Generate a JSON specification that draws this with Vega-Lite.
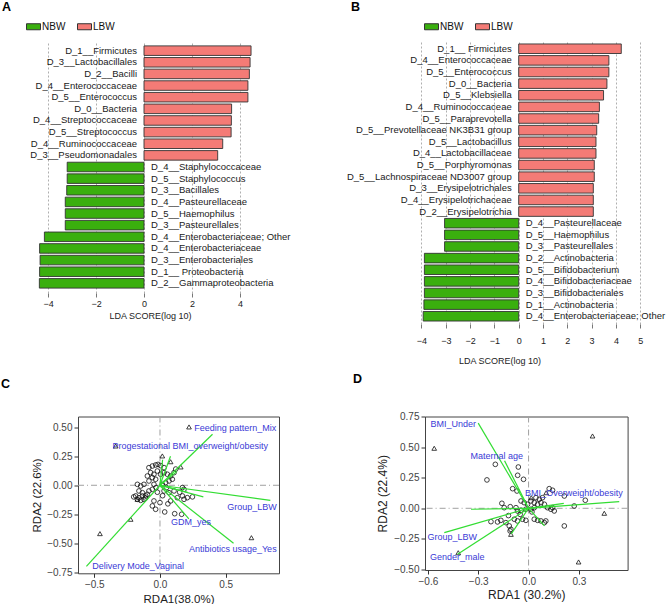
{
  "$schema": "https://vega.github.io/schema/vega-lite/v6.json",
  "padding": 0,
  "background": "white",
  "config": {"font": "Liberation Sans", "view": {"stroke": null}, "axis": {"labelOverlap": false, "labelFlush": false}},
  "datasets": {
    "ldaA": [
      {"order": 1, "taxon": "D_1__Firmicutes", "group": "LBW", "lda": 4.46},
      {"order": 2, "taxon": "D_3__Lactobacillales", "group": "LBW", "lda": 4.42},
      {"order": 3, "taxon": "D_2__Bacilli", "group": "LBW", "lda": 4.39},
      {"order": 4, "taxon": "D_4__Enterococcaceae", "group": "LBW", "lda": 4.33},
      {"order": 5, "taxon": "D_5__Enterococcus", "group": "LBW", "lda": 4.33},
      {"order": 6, "taxon": "D_0__Bacteria", "group": "LBW", "lda": 3.65},
      {"order": 7, "taxon": "D_4__Streptococcaceae", "group": "LBW", "lda": 3.64},
      {"order": 8, "taxon": "D_5__Streptococcus", "group": "LBW", "lda": 3.63},
      {"order": 9, "taxon": "D_4__Ruminococcaceae", "group": "LBW", "lda": 3.28},
      {"order": 10, "taxon": "D_3__Pseudomonadales", "group": "LBW", "lda": 3.07},
      {"order": 11, "taxon": "D_4__Staphylococcaceae", "group": "NBW", "lda": -3.2},
      {"order": 12, "taxon": "D_5__Staphylococcus", "group": "NBW", "lda": -3.2},
      {"order": 13, "taxon": "D_3__Bacillales", "group": "NBW", "lda": -3.22},
      {"order": 14, "taxon": "D_4__Pasteurellaceae", "group": "NBW", "lda": -3.28},
      {"order": 15, "taxon": "D_5__Haemophilus", "group": "NBW", "lda": -3.28},
      {"order": 16, "taxon": "D_3__Pasteurellales", "group": "NBW", "lda": -3.28},
      {"order": 17, "taxon": "D_4__Enterobacteriaceae; Other", "group": "NBW", "lda": -4.15},
      {"order": 18, "taxon": "D_4__Enterobacteriaceae", "group": "NBW", "lda": -4.35},
      {"order": 19, "taxon": "D_3__Enterobacteriales", "group": "NBW", "lda": -4.33},
      {"order": 20, "taxon": "D_1__ Proteobacteria", "group": "NBW", "lda": -4.35},
      {"order": 21, "taxon": "D_2__Gammaproteobacteria", "group": "NBW", "lda": -4.36}
    ],
    "ldaB": [
      {"order": 1, "taxon": "D_1__ Firmicutes", "group": "LBW", "lda": 4.22},
      {"order": 2, "taxon": "D_4__Enterococcaceae", "group": "LBW", "lda": 3.71},
      {"order": 3, "taxon": "D_5__Enterococcus", "group": "LBW", "lda": 3.71},
      {"order": 4, "taxon": "D_0__Bacteria", "group": "LBW", "lda": 3.63},
      {"order": 5, "taxon": "D_5__Klebsiella", "group": "LBW", "lda": 3.49},
      {"order": 6, "taxon": "D_4__Ruminococcaceae", "group": "LBW", "lda": 3.32},
      {"order": 7, "taxon": "D_5__Paraprevotella", "group": "LBW", "lda": 3.29},
      {"order": 8, "taxon": "D_5__Prevotellaceae NK3B31 group", "group": "LBW", "lda": 3.21},
      {"order": 9, "taxon": "D_5__Lactobacillus", "group": "LBW", "lda": 3.18},
      {"order": 10, "taxon": "D_4__Lactobacillaceae", "group": "LBW", "lda": 3.18},
      {"order": 11, "taxon": "D_5__Porphyromonas", "group": "LBW", "lda": 3.11},
      {"order": 12, "taxon": "D_5__Lachnospiraceae ND3007 group", "group": "LBW", "lda": 3.11},
      {"order": 13, "taxon": "D_3__Erysipelotrichales", "group": "LBW", "lda": 3.07},
      {"order": 14, "taxon": "D_4__Erysipelotrichaceae", "group": "LBW", "lda": 3.07},
      {"order": 15, "taxon": "D_2__Erysipelotrichia", "group": "LBW", "lda": 3.07},
      {"order": 16, "taxon": "D_4__Pasteurellaceae", "group": "NBW", "lda": -3.05},
      {"order": 17, "taxon": "D_5__Haemophilus", "group": "NBW", "lda": -3.05},
      {"order": 18, "taxon": "D_3__Pasteurellales", "group": "NBW", "lda": -3.05},
      {"order": 19, "taxon": "D_2__Actinobacteria", "group": "NBW", "lda": -3.88},
      {"order": 20, "taxon": "D_5__Bifidobacterium", "group": "NBW", "lda": -3.88},
      {"order": 21, "taxon": "D_4__Bifidobacteriaceae", "group": "NBW", "lda": -3.88},
      {"order": 22, "taxon": "D_3__Bifidobacteriales", "group": "NBW", "lda": -3.88},
      {"order": 23, "taxon": "D_1__Actinobacteria", "group": "NBW", "lda": -3.9},
      {"order": 24, "taxon": "D_4__Enterobacteriaceae; Other", "group": "NBW", "lda": -3.93}
    ],
    "ptsC": [
      {"x": -0.084, "y": 0.152, "shape": "circle"}, {"x": -0.058, "y": 0.166, "shape": "circle"}, {"x": -0.033, "y": 0.175, "shape": "circle"},
      {"x": -0.015, "y": 0.18, "shape": "circle"}, {"x": 0.005, "y": 0.17, "shape": "circle"}, {"x": -0.071, "y": 0.109, "shape": "circle"},
      {"x": -0.046, "y": 0.095, "shape": "circle"}, {"x": -0.02, "y": 0.123, "shape": "circle"}, {"x": -0.058, "y": 0.066, "shape": "circle"},
      {"x": -0.033, "y": 0.052, "shape": "circle"}, {"x": -0.084, "y": 0.037, "shape": "circle"}, {"x": -0.096, "y": 0.08, "shape": "circle"},
      {"x": 0.005, "y": 0.095, "shape": "circle"}, {"x": 0.031, "y": 0.109, "shape": "circle"}, {"x": 0.056, "y": 0.095, "shape": "circle"},
      {"x": 0.081, "y": 0.08, "shape": "circle"}, {"x": 0.107, "y": 0.109, "shape": "circle"}, {"x": 0.094, "y": 0.052, "shape": "circle"},
      {"x": 0.069, "y": 0.037, "shape": "circle"}, {"x": 0.043, "y": 0.023, "shape": "circle"}, {"x": 0.018, "y": 0.008, "shape": "circle"},
      {"x": 0.031, "y": 0.152, "shape": "circle"}, {"x": 0.12, "y": 0.14, "shape": "circle"},
      {"x": -0.172, "y": 0.008, "shape": "circle"}, {"x": -0.147, "y": -0.006, "shape": "circle"}, {"x": -0.122, "y": 0.008, "shape": "circle"},
      {"x": -0.16, "y": -0.049, "shape": "circle"}, {"x": -0.134, "y": -0.064, "shape": "circle"}, {"x": -0.185, "y": -0.092, "shape": "circle"},
      {"x": -0.16, "y": -0.107, "shape": "circle"}, {"x": -0.134, "y": -0.092, "shape": "circle"}, {"x": -0.109, "y": -0.092, "shape": "circle"},
      {"x": -0.096, "y": -0.078, "shape": "circle"}, {"x": -0.172, "y": -0.121, "shape": "circle"}, {"x": -0.147, "y": -0.13, "shape": "circle"},
      {"x": -0.122, "y": -0.121, "shape": "circle"}, {"x": -0.084, "y": -0.049, "shape": "circle"}, {"x": -0.058, "y": -0.035, "shape": "circle"},
      {"x": -0.046, "y": 0.008, "shape": "circle"}, {"x": -0.2, "y": -0.1, "shape": "circle"}, {"x": -0.11, "y": -0.11, "shape": "circle"},
      {"x": -0.058, "y": -0.178, "shape": "circle"}, {"x": -0.033, "y": -0.207, "shape": "circle"}, {"x": 0.0, "y": -0.15, "shape": "circle"},
      {"x": 0.036, "y": -0.23, "shape": "circle"}, {"x": 0.112, "y": -0.245, "shape": "circle"}, {"x": 0.165, "y": -0.25, "shape": "circle"},
      {"x": 0.081, "y": -0.135, "shape": "circle"}, {"x": 0.132, "y": -0.107, "shape": "circle"}, {"x": 0.171, "y": -0.092, "shape": "circle"},
      {"x": 0.183, "y": -0.121, "shape": "circle"}, {"x": 0.208, "y": -0.107, "shape": "circle"}, {"x": 0.247, "y": -0.1, "shape": "circle"},
      {"x": 0.171, "y": -0.02, "shape": "circle"}, {"x": 0.183, "y": -0.035, "shape": "circle"}, {"x": 0.107, "y": -0.049, "shape": "circle"},
      {"x": 0.069, "y": -0.064, "shape": "circle"}, {"x": 0.031, "y": -0.049, "shape": "circle"}, {"x": -0.046, "y": -0.135, "shape": "circle"},
      {"x": 0.15, "y": -0.06, "shape": "circle"}, {"x": 0.06, "y": -0.16, "shape": "circle"}, {"x": 0.02, "y": -0.09, "shape": "circle"},
      {"x": -0.02, "y": -0.06, "shape": "circle"}, {"x": 0.05, "y": -0.02, "shape": "circle"}, {"x": -0.03, "y": -0.02, "shape": "circle"},
      {"x": 0.221, "y": 0.503, "shape": "triangle"}, {"x": -0.337, "y": 0.339, "shape": "triangle"}, {"x": 0.018, "y": 0.253, "shape": "triangle"},
      {"x": 0.081, "y": 0.203, "shape": "triangle"}, {"x": 0.158, "y": 0.158, "shape": "triangle"}, {"x": -0.223, "y": -0.293, "shape": "triangle"},
      {"x": -0.457, "y": -0.417, "shape": "triangle"}, {"x": 0.696, "y": -0.452, "shape": "triangle"}, {"x": -0.172, "y": -0.121, "shape": "triangle"}
    ],
    "vecC": [
      {"x0": 0, "y0": 0, "x": 0.40, "y": 0.44}, {"x0": 0, "y0": 0, "x": 0.08, "y": 0.25}, {"x0": 0, "y0": 0, "x": 0.02, "y": 0.22},
      {"x0": 0, "y0": 0, "x": 0.13, "y": 0.12}, {"x0": 0, "y0": 0, "x": 0.84, "y": -0.13}, {"x0": 0, "y0": 0, "x": 0.33, "y": -0.10},
      {"x0": 0, "y0": 0, "x": 0.21, "y": -0.06}, {"x0": 0, "y0": 0, "x": 0.22, "y": -0.29}, {"x0": 0, "y0": 0, "x": 0.56, "y": -0.50},
      {"x0": 0, "y0": 0, "x": -0.56, "y": -0.70}
    ],
    "labC": [
      {"x": 0.573, "y": 0.495, "label": "Feeding pattern_Mix"},
      {"x": 0.23, "y": 0.336, "label": "Progestational BMI_overweight/obesity"},
      {"x": 0.70, "y": -0.185, "label": "Group_LBW"},
      {"x": 0.236, "y": -0.316, "label": "GDM_yes"},
      {"x": 0.554, "y": -0.552, "label": "Antibiotics usage_Yes"},
      {"x": -0.166, "y": -0.70, "label": "Delivery Mode_Vaginal"}
    ],
    "ptsD": [
      {"x": -0.198, "y": 0.361, "shape": "circle"}, {"x": -0.248, "y": 0.233, "shape": "circle"}, {"x": -0.061, "y": 0.339, "shape": "circle"},
      {"x": -0.065, "y": 0.271, "shape": "circle"}, {"x": -0.03, "y": 0.238, "shape": "circle"}, {"x": -0.095, "y": 0.161, "shape": "circle"},
      {"x": -0.069, "y": 0.142, "shape": "circle"}, {"x": 0.123, "y": 0.161, "shape": "circle"}, {"x": 0.143, "y": 0.148, "shape": "circle"},
      {"x": 0.213, "y": 0.101, "shape": "circle"}, {"x": 0.338, "y": 0.066, "shape": "circle"}, {"x": 0.272, "y": 0.019, "shape": "circle"},
      {"x": 0.213, "y": -0.145, "shape": "circle"}, {"x": -0.159, "y": 0.041, "shape": "circle"}, {"x": -0.145, "y": 0.005, "shape": "circle"},
      {"x": -0.109, "y": 0.013, "shape": "circle"}, {"x": -0.224, "y": -0.11, "shape": "circle"}, {"x": -0.185, "y": -0.112, "shape": "circle"},
      {"x": -0.165, "y": -0.099, "shape": "circle"}, {"x": -0.135, "y": -0.118, "shape": "circle"}, {"x": -0.115, "y": -0.145, "shape": "circle"},
      {"x": -0.105, "y": -0.173, "shape": "circle"}, {"x": -0.11, "y": -0.186, "shape": "circle"}, {"x": -0.085, "y": -0.09, "shape": "circle"},
      {"x": -0.066, "y": -0.104, "shape": "circle"}, {"x": -0.036, "y": -0.09, "shape": "circle"}, {"x": -0.016, "y": -0.099, "shape": "circle"},
      {"x": 0.034, "y": -0.09, "shape": "circle"}, {"x": 0.054, "y": -0.099, "shape": "circle"}, {"x": 0.074, "y": -0.104, "shape": "circle"},
      {"x": 0.094, "y": -0.118, "shape": "circle"}, {"x": 0.103, "y": -0.104, "shape": "circle"}, {"x": -0.045, "y": 0.06, "shape": "circle"},
      {"x": -0.026, "y": 0.046, "shape": "circle"}, {"x": -0.006, "y": 0.033, "shape": "circle"}, {"x": 0.014, "y": 0.06, "shape": "circle"},
      {"x": 0.034, "y": 0.046, "shape": "circle"}, {"x": 0.054, "y": 0.033, "shape": "circle"}, {"x": 0.074, "y": 0.046, "shape": "circle"},
      {"x": 0.094, "y": 0.033, "shape": "circle"}, {"x": 0.113, "y": 0.005, "shape": "circle"}, {"x": 0.133, "y": -0.008, "shape": "circle"},
      {"x": 0.153, "y": -0.022, "shape": "circle"}, {"x": 0.143, "y": 0.005, "shape": "circle"}, {"x": 0.034, "y": 0.005, "shape": "circle"},
      {"x": 0.014, "y": -0.008, "shape": "circle"}, {"x": -0.016, "y": -0.008, "shape": "circle"}, {"x": -0.045, "y": -0.016, "shape": "circle"},
      {"x": -0.066, "y": -0.022, "shape": "circle"}, {"x": -0.075, "y": 0.005, "shape": "circle"}, {"x": 0.064, "y": 0.074, "shape": "circle"},
      {"x": 0.083, "y": 0.087, "shape": "circle"}, {"x": 0.044, "y": 0.087, "shape": "circle"}, {"x": -0.12, "y": -0.06, "shape": "circle"},
      {"x": -0.05, "y": -0.05, "shape": "circle"}, {"x": 0.02, "y": -0.03, "shape": "circle"},
      {"x": 0.381, "y": 0.594, "shape": "triangle"}, {"x": -0.562, "y": 0.493, "shape": "triangle"}, {"x": 0.451, "y": -0.041, "shape": "triangle"},
      {"x": 0.298, "y": -0.441, "shape": "triangle"}, {"x": -0.419, "y": -0.365, "shape": "triangle"}, {"x": -0.105, "y": -0.214, "shape": "triangle"},
      {"x": 0.105, "y": 0.128, "shape": "triangle"}, {"x": 0.016, "y": 0.087, "shape": "triangle"}
    ],
    "vecD": [
      {"x0": 0, "y0": 0, "x": -0.30, "y": 0.70}, {"x0": 0, "y0": 0, "x": -0.143, "y": 0.39}, {"x0": 0, "y0": 0, "x": 0.54, "y": 0.054},
      {"x0": 0, "y0": 0, "x": -0.502, "y": -0.20}, {"x0": 0, "y0": 0, "x": -0.423, "y": -0.378}, {"x0": 0, "y0": 0, "x": -0.343, "y": -0.008},
      {"x0": 0, "y0": 0, "x": 0.21, "y": 0.04}, {"x0": 0, "y0": 0, "x": 0.095, "y": -0.145}, {"x0": 0, "y0": 0, "x": -0.103, "y": -0.21}
    ],
    "labD": [
      {"x": -0.449, "y": 0.69, "label": "BMI_Under"},
      {"x": -0.19, "y": 0.43, "label": "Maternal age"},
      {"x": 0.27, "y": 0.123, "label": "BMI_Overweight/obesity"},
      {"x": -0.455, "y": -0.233, "label": "Group_LBW"},
      {"x": -0.425, "y": -0.40, "label": "Gender_male"}
    ],
    "zero": [{"z": 0}]
  },
  "bounds": "flush",
  "spacing": 375.5,
  "vconcat": [
    {
      "bounds": "flush",
      "spacing": 33,
      "resolve": {"scale": {"color": "independent"}, "legend": {"color": "independent"}},
      "hconcat": [
        {
          "width": 300,
          "height": 252,
          "title": {"text": "A", "anchor": "start", "frame": "group", "fontSize": 12.5, "fontWeight": "bold", "color": "#000", "offset": 6, "dx": 2},
          "data": {"name": "ldaA"},
          "encoding": {
            "y": {"field": "taxon", "type": "nominal", "sort": {"field": "order", "op": "min"}, "axis": null,
                  "scale": {"paddingInner": 0.18, "paddingOuter": 0.42}}
          },
          "layer": [
            {
              "mark": {"type": "bar", "stroke": "#333333", "strokeWidth": 0.9},
              "encoding": {
                "x": {"field": "lda", "type": "quantitative", "scale": {"domain": [-6, 6.5], "nice": false, "zero": false},
                      "axis": {"values": [-4, -2, 0, 2, 4], "tickCount": 30, "format": "d", "labelOverlap": false, "grid": true, "gridDash": [2, 2], "gridColor": "#9a9a9a", "gridWidth": 0.8,
                               "domain": false, "tickColor": "#777", "tickSize": 4, "labelFontSize": 9, "labelColor": "#222", "labelPadding": 2,
                               "title": "LDA SCORE(log 10)", "titleFontSize": 9, "titleFontWeight": "normal", "titleColor": "#222", "titlePadding": 3}},
                "color": {"field": "group", "type": "nominal",
                          "scale": {"domain": ["NBW", "LBW"], "range": ["#3aaf0e", "#f47b76"]},
                          "legend": {"orient": "none", "legendX": 26, "legendY": -22, "direction": "horizontal", "title": null,
                                     "symbolType": "M-1,-0.43H1V0.43H-1Z", "symbolSize": 196, "symbolStrokeColor": "#333",
                                     "symbolStrokeWidth": 1, "labelFontSize": 10, "labelOffset": 1, "columnPadding": 9, "padding": 0, "labelColor": "#111"}}
              }
            },
            {
              "transform": [{"filter": "datum.group === 'LBW'"}],
              "mark": {"type": "text", "align": "right", "dx": -7, "fontSize": 9.5, "color": "#1a1a1a"},
              "encoding": {"x": {"datum": 0, "type": "quantitative"}, "text": {"field": "taxon"}}
            },
            {
              "transform": [{"filter": "datum.group === 'NBW'"}],
              "mark": {"type": "text", "align": "left", "dx": 7, "fontSize": 9.5, "color": "#1a1a1a"},
              "encoding": {"x": {"datum": 0, "type": "quantitative"}, "text": {"field": "taxon"}}
            }
          ]
        },
        {
          "width": 333,
          "height": 283,
          "title": {"text": "B", "anchor": "start", "frame": "group", "fontSize": 12.5, "fontWeight": "bold", "color": "#000", "offset": 6, "dx": 18},
          "data": {"name": "ldaB"},
          "encoding": {
            "y": {"field": "taxon", "type": "nominal", "sort": {"field": "order", "op": "min"}, "axis": null,
                  "scale": {"paddingInner": 0.18, "paddingOuter": 0.255}}
          },
          "layer": [
            {
              "mark": {"type": "bar", "stroke": "#333333", "strokeWidth": 0.9},
              "encoding": {
                "x": {"field": "lda", "type": "quantitative", "scale": {"domain": [-7.64, 6.06], "nice": false, "zero": false},
                      "axis": {"values": [-4, -3, -2, -1, 0, 1, 2, 3, 4, 5], "tickCount": 30, "format": "d", "labelOverlap": false, "grid": true, "gridDash": [2, 2], "gridColor": "#9a9a9a", "gridWidth": 0.8,
                               "domain": false, "tickColor": "#777", "tickSize": 4, "labelFontSize": 9, "labelColor": "#222", "labelPadding": 8,
                               "title": "LDA SCORE(log 10)", "titleFontSize": 9, "titleFontWeight": "normal", "titleColor": "#222", "titlePadding": 11}},
                "color": {"field": "group", "type": "nominal",
                          "scale": {"domain": ["NBW", "LBW"], "range": ["#3aaf0e", "#f47b76"]},
                          "legend": {"orient": "none", "legendX": 91, "legendY": -22, "direction": "horizontal", "title": null,
                                     "symbolType": "M-1,-0.43H1V0.43H-1Z", "symbolSize": 196, "symbolStrokeColor": "#333",
                                     "symbolStrokeWidth": 1, "labelFontSize": 10, "labelOffset": 1, "columnPadding": 9, "padding": 0, "labelColor": "#111"}}
              }
            },
            {
              "transform": [{"filter": "datum.group === 'LBW'"}],
              "mark": {"type": "text", "align": "right", "dx": -7, "fontSize": 9.5, "color": "#1a1a1a"},
              "encoding": {"x": {"datum": 0, "type": "quantitative"}, "text": {"field": "taxon"}}
            },
            {
              "transform": [{"filter": "datum.group === 'NBW'"}],
              "mark": {"type": "text", "align": "left", "dx": 7, "fontSize": 9.5, "color": "#1a1a1a"},
              "encoding": {"x": {"datum": 0, "type": "quantitative"}, "text": {"field": "taxon"}}
            }
          ]
        }
      ]
    },
    {
      "bounds": "flush",
      "spacing": 0,
      "hconcat": [
        {"width": 77.3, "height": 10, "data": {"name": "zero"}, "mark": {"type": "text", "text": ""}, "encoding": {}},
        {
          "width": 201,
          "height": 156.8,
          "view": {"stroke": "#444444", "strokeWidth": 1},
          "title": {"text": "C", "anchor": "start", "frame": "group", "fontSize": 12.5, "fontWeight": "bold", "color": "#000", "offset": 26, "dx": -77},
          "layer": [
            {
              "data": {"name": "zero"},
              "mark": {"type": "rule", "color": "#a0a0a0", "strokeDash": [6, 3, 1, 3], "strokeWidth": 1},
              "encoding": {
                "x": {"field": "z", "type": "quantitative", "title": "RDA1(38.0%)",
                      "scale": {"domain": [-0.624, 0.906], "nice": false, "zero": false},
                      "axis": {"values": [-0.5, 0, 0.5], "tickCount": 30, "labelOverlap": false, "format": ".1f", "grid": false, "domain": false, "tickColor": "#333", "tickSize": 4,
                               "labelFontSize": 10, "labelColor": "#444", "labelPadding": 2, "titleFontSize": 11.5, "titleFontWeight": "normal",
                               "titleColor": "#222", "titlePadding": 4}}
              }
            },
            {
              "data": {"name": "zero"},
              "mark": {"type": "rule", "color": "#a0a0a0", "strokeDash": [6, 3, 1, 3], "strokeWidth": 1},
              "encoding": {
                "y": {"field": "z", "type": "quantitative", "title": "RDA2 (22.6%)",
                      "scale": {"domain": [-0.759, 0.593], "nice": false, "zero": false},
                      "axis": {"values": [-0.75, -0.5, -0.25, 0, 0.25, 0.5], "tickCount": 30, "labelOverlap": false, "format": ".2f", "grid": false, "domain": false, "tickColor": "#333", "tickSize": 4,
                               "labelFontSize": 10, "labelColor": "#444", "labelPadding": 2, "titleFontSize": 11.5, "titleFontWeight": "normal",
                               "titleColor": "#222", "titlePadding": 4}}
              }
            },
            {
              "data": {"name": "ptsC"},
              "mark": {"type": "point", "filled": false, "stroke": "#111", "strokeWidth": 0.8, "size": 22, "opacity": 1},
              "encoding": {
                "x": {"field": "x", "type": "quantitative", "title": "RDA1(38.0%)"},
                "y": {"field": "y", "type": "quantitative", "title": "RDA2 (22.6%)"},
                "shape": {"field": "shape", "type": "nominal", "scale": {"domain": ["circle", "triangle"], "range": ["circle", "triangle-up"]}, "legend": null}
              }
            },
            {
              "data": {"name": "vecC"},
              "mark": {"type": "rule", "color": "#33dd33", "strokeWidth": 1.2},
              "encoding": {
                "x": {"field": "x0", "type": "quantitative", "title": "RDA1(38.0%)"},
                "y": {"field": "y0", "type": "quantitative", "title": "RDA2 (22.6%)"},
                "x2": {"field": "x"},
                "y2": {"field": "y"}
              }
            },
            {
              "data": {"name": "labC"},
              "mark": {"type": "text", "fontSize": 9, "color": "#3a3ad6", "align": "center", "baseline": "middle"},
              "encoding": {
                "x": {"field": "x", "type": "quantitative", "title": "RDA1(38.0%)"},
                "y": {"field": "y", "type": "quantitative", "title": "RDA2 (22.6%)"},
                "text": {"field": "label"}
              }
            }
          ]
        },
        {"width": 145.4, "height": 10, "data": {"name": "zero"}, "mark": {"type": "text", "text": ""}, "encoding": {}},
        {
          "width": 202.6,
          "height": 153.5,
          "view": {"stroke": "#444444", "strokeWidth": 1},
          "title": {"text": "D", "anchor": "start", "frame": "group", "fontSize": 12.5, "fontWeight": "bold", "color": "#000", "offset": 26, "dx": -72},
          "layer": [
            {
              "data": {"name": "zero"},
              "mark": {"type": "rule", "color": "#a0a0a0", "strokeDash": [6, 3, 1, 3], "strokeWidth": 1},
              "encoding": {
                "x": {"field": "z", "type": "quantitative", "title": "RDA1 (30.2%)",
                      "scale": {"domain": [-0.617, 0.59], "nice": false, "zero": false},
                      "axis": {"values": [-0.6, -0.3, 0, 0.3], "tickCount": 30, "labelOverlap": false, "format": ".1f", "grid": false, "domain": false, "tickColor": "#333", "tickSize": 4,
                               "labelFontSize": 10, "labelColor": "#444", "labelPadding": 2, "titleFontSize": 12, "titleFontWeight": "normal",
                               "titleColor": "#222", "titlePadding": 3}}
              }
            },
            {
              "data": {"name": "zero"},
              "mark": {"type": "rule", "color": "#a0a0a0", "strokeDash": [6, 3, 1, 3], "strokeWidth": 1},
              "encoding": {
                "y": {"field": "z", "type": "quantitative", "title": "RDA2 (22.4%)",
                      "scale": {"domain": [-0.507, 0.754], "nice": false, "zero": false},
                      "axis": {"values": [-0.5, -0.25, 0, 0.25, 0.5, 0.75], "tickCount": 30, "labelOverlap": false, "format": ".2f", "grid": false, "domain": false, "tickColor": "#333", "tickSize": 4,
                               "labelFontSize": 10, "labelColor": "#444", "labelPadding": 2, "titleFontSize": 12, "titleFontWeight": "normal",
                               "titleColor": "#222", "titlePadding": 4}}
              }
            },
            {
              "data": {"name": "ptsD"},
              "mark": {"type": "point", "filled": false, "stroke": "#111", "strokeWidth": 0.8, "size": 22, "opacity": 1},
              "encoding": {
                "x": {"field": "x", "type": "quantitative", "title": "RDA1 (30.2%)"},
                "y": {"field": "y", "type": "quantitative", "title": "RDA2 (22.4%)"},
                "shape": {"field": "shape", "type": "nominal", "scale": {"domain": ["circle", "triangle"], "range": ["circle", "triangle-up"]}, "legend": null}
              }
            },
            {
              "data": {"name": "vecD"},
              "mark": {"type": "rule", "color": "#33dd33", "strokeWidth": 1.2},
              "encoding": {
                "x": {"field": "x0", "type": "quantitative", "title": "RDA1 (30.2%)"},
                "y": {"field": "y0", "type": "quantitative", "title": "RDA2 (22.4%)"},
                "x2": {"field": "x"},
                "y2": {"field": "y"}
              }
            },
            {
              "data": {"name": "labD"},
              "mark": {"type": "text", "fontSize": 9, "color": "#3a3ad6", "align": "center", "baseline": "middle"},
              "encoding": {
                "x": {"field": "x", "type": "quantitative", "title": "RDA1 (30.2%)"},
                "y": {"field": "y", "type": "quantitative", "title": "RDA2 (22.4%)"},
                "text": {"field": "label"}
              }
            }
          ]
        }
      ]
    }
  ]
}
